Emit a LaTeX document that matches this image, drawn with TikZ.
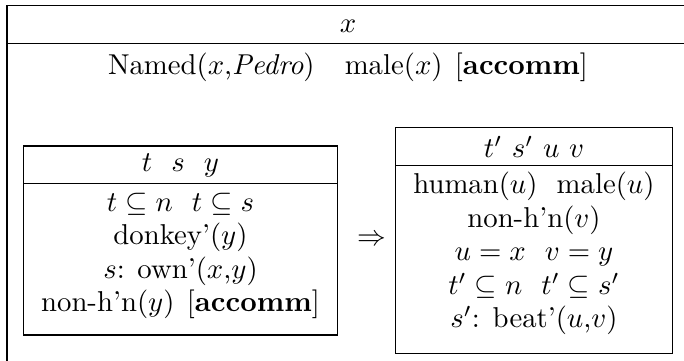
\documentclass[tikz,border=0pt]{standalone}
\usepackage{amsmath,amssymb}
\usepackage{tikz}
\usetikzlibrary{positioning}

\begin{document}
\begin{tikzpicture}[x=0.348pt, y=-0.348pt, font=\normalsize]
\tikzset{cond/.style={anchor=base, inner sep=0pt}, hdr/.style={inner sep=0pt}, rule/.style={line width=0.4pt}}
\useasboundingbox (0,0) rectangle (684,361);
% outer box (cut off right and below)
\draw[rule] (7,370) -- (7,5.5) -- (700,5.5);
\draw[rule] (7,43.5) -- (700,43.5);
\node[hdr] (outhead) at (348,26) {$x$};
\node[cond] (outcond) at (348,74.5) {Named($x$,\textit{Pedro})\hspace{10.5pt}male($x$)\hspace{4.3pt}[\textbf{accomm}]};

% left box
\draw[rule] (23.3,146) rectangle (337.7,335);
\draw[rule] (23.3,183.3) -- (337.7,183.3);
\node[hdr] (lhead) at (180.5,165) {$t\ \ s\ \ y$};
\node[cond] (lone) at (180.5,211.7) {$t \subseteq n\ \ t \subseteq s$};
\node[cond] (ltwo) at (180.5,245) {donkey'($y$)};
\node[cond] (lthree) at (180.5,278.5) {$s$: own'($x$,$y$)};
\node[cond] (lfour) at (180.5,312) {non-h'n($y$)\hspace{4.3pt}[\textbf{accomm}]};

\node[hdr] (impl) at (372,240) {$\Rightarrow$};

% right box
\draw[rule] (395.7,127.7) rectangle (672.7,353.3);
\draw[rule] (395.7,165.7) -- (672.7,165.7);
\node[hdr] (rhead) at (534,147) {$t'\ s'\ u\ v$};
\node[cond] (rone) at (534,193.3) {human($u$)\ \ male($u$)};
\node[cond] (rtwo) at (534,227.5) {non-h'n($v$)};
\node[cond] (rthree) at (534,261) {$u = x\ \ v = y$};
\node[cond] (rfour) at (534,294.5) {$t' \subseteq n\ \ t' \subseteq s'$};
\node[cond] (rfive) at (534,328) {$s'$: beat'($u$,$v$)};
\end{tikzpicture}
\end{document}
